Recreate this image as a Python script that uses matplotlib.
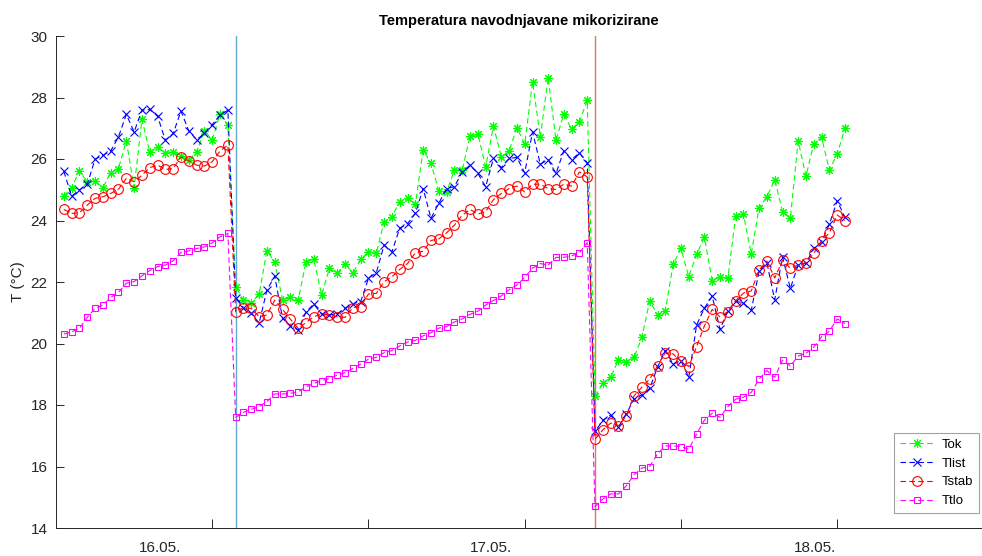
import matplotlib
matplotlib.use("Agg")

import matplotlib.pyplot as plt
import numpy as np

plt.rcParams["font.family"] = ["Liberation Sans", "DejaVu Sans"]

# measurements, one every 0.6 h (36 min) from the start of the axis
tok = [24.79, 25.07, 25.61, 25.26, 25.29, 25.07, 25.55, 25.69, 26.59, 25.07,
       27.29, 26.23, 26.39, 26.18, 26.23, 26.09, 25.96, 26.23, 26.91, 26.63,
       27.46, 27.10, 21.85, 21.41, 21.33, 21.61, 23.01, 22.66, 21.41, 21.50,
       21.41, 22.66, 22.74, 21.58, 22.44, 22.28, 22.60, 22.28, 22.74, 22.98,
       22.93, 23.96, 24.13, 24.61, 24.72, 24.53, 26.29, 25.87, 24.96, 24.93,
       25.64, 25.64, 26.74, 26.81, 25.75, 27.07, 26.07, 26.26, 27.02, 26.48,
       28.51, 26.71, 28.65, 26.61, 27.46, 26.97, 27.21, 27.91, 18.28, 18.71,
       18.90, 19.46, 19.41, 19.55, 20.20, 21.39, 20.93, 21.07, 22.58, 23.09,
       22.17, 22.90, 23.45, 22.04, 22.17, 22.12, 24.14, 24.20, 22.91, 24.42,
       24.77, 25.33, 24.29, 24.07, 26.59, 25.44, 26.50, 26.70, 25.64, 26.16,
       27.00]
tlist = [25.60, 24.79, 24.99, 25.18, 25.99, 26.12, 26.26, 26.72, 27.45, 26.88,
         27.59, 27.61, 27.39, 26.61, 26.83, 27.56, 26.91, 26.63, 26.83, 27.12,
         27.42, 27.59, 21.47, 21.17, 20.98, 20.66, 21.74, 22.19, 20.82, 20.57,
         20.44, 21.03, 21.28, 20.96, 20.93, 20.96, 21.14, 21.30, 21.36, 22.12,
         22.30, 23.20, 22.98, 23.75, 23.90, 24.23, 25.04, 24.07, 24.56, 25.04,
         25.10, 25.58, 25.80, 25.53, 25.10, 26.02, 25.72, 26.02, 26.05, 25.55,
         26.88, 25.83, 25.98, 25.53, 26.26, 25.98, 26.20, 25.88, 17.14, 17.50,
         17.68, 17.28, 17.71, 18.19, 18.33, 18.54, 19.23, 19.77, 19.33, 19.44,
         18.90, 20.60, 21.15, 21.54, 20.46, 21.05, 21.37, 21.32, 21.08, 22.35,
         22.62, 21.42, 22.82, 21.79, 22.55, 22.61, 23.09, 23.31, 23.88, 24.64,
         24.10]
tstab = [24.36, 24.23, 24.25, 24.50, 24.72, 24.77, 24.88, 25.02, 25.37, 25.26,
         25.47, 25.72, 25.80, 25.66, 25.69, 26.07, 25.94, 25.80, 25.77, 25.91,
         26.26, 26.45, 21.03, 21.17, 21.14, 20.87, 20.93, 21.41, 21.11, 20.79,
         20.49, 20.68, 20.87, 20.96, 20.93, 20.87, 20.85, 21.17, 21.20, 21.61,
         21.63, 22.01, 22.17, 22.41, 22.60, 22.95, 23.00, 23.35, 23.40, 23.60,
         23.85, 24.17, 24.36, 24.21, 24.29, 24.68, 24.88, 25.04, 25.12, 24.93,
         25.18, 25.18, 25.04, 25.01, 25.18, 25.12, 25.58, 25.42, 16.89, 17.19,
         17.41, 17.32, 17.65, 18.30, 18.58, 18.84, 19.27, 19.70, 19.66, 19.42,
         19.25, 19.90, 20.57, 21.11, 20.86, 21.04, 21.39, 21.64, 21.71, 22.39,
         22.68, 22.13, 22.70, 22.45, 22.55, 22.63, 22.93, 23.34, 23.60, 24.18,
         24.00]
ttlo = [20.31, 20.38, 20.49, 20.85, 21.14, 21.25, 21.50, 21.66, 21.96, 22.01,
        22.20, 22.37, 22.50, 22.55, 22.69, 22.96, 23.01, 23.09, 23.14, 23.27,
        23.47, 23.58, 17.60, 17.76, 17.86, 17.95, 18.11, 18.36, 18.36, 18.38,
        18.43, 18.59, 18.70, 18.79, 18.86, 18.97, 19.05, 19.19, 19.33, 19.49,
        19.55, 19.70, 19.77, 19.92, 20.05, 20.10, 20.25, 20.35, 20.50, 20.55,
        20.70, 20.80, 20.95, 21.05, 21.25, 21.40, 21.55, 21.75, 21.90, 22.15,
        22.45, 22.60, 22.55, 22.80, 22.80, 22.85, 22.95, 23.28, 14.70, 14.94,
        15.11, 15.11, 15.37, 15.73, 15.95, 16.00, 16.41, 16.67, 16.67, 16.65,
        16.56, 17.06, 17.51, 17.73, 17.60, 17.95, 18.19, 18.25, 18.41, 18.84,
        19.12, 18.90, 19.46, 19.27, 19.59, 19.68, 19.88, 20.22, 20.40, 20.80,
        20.65]

STEP_H = 0.6
hours = STEP_H * np.arange(1, len(tok) + 1)

# irrigation events (hours) and day labels
events = [hours[22], hours[68]]
event_colors = ["#62a9cf", "#d8795a"]
day_labels = ["16.05.", "17.05.", "18.05."]
day_label_pos = [8.0, 33.4, 58.3]
tick_hours = [12, 24, 36, 48, 60]

fig = plt.figure(figsize=(9.82, 5.56), dpi=100)
ax = fig.add_axes([56 / 982, 28 / 556, 925 / 982, 492 / 556])

dash = (0, (5, 3))
ax.plot(hours, tok, color="#00ff00", ls=dash, lw=0.8, marker=(8, 2, 0),
        ms=6.5, mew=0.8, label="Tok")
ax.plot(hours, tlist, color="#0000ff", ls=dash, lw=0.8, marker="x",
        ms=5.5, mew=0.8, label="Tlist")
ax.plot(hours, tstab, color="#ff0000", ls=dash, lw=0.8, marker="o",
        ms=7, mew=0.8, mfc="none", label="Tstab")
ax.plot(hours, ttlo, color="#ff00ff", ls=dash, lw=0.8, marker="s",
        ms=5, mew=0.8, mfc="none", label="Ttlo")

for ev, c in zip(events, event_colors):
    ax.axvline(ev, color=c, lw=1.0, zorder=0)

ax.set_xlim(0, 925 / 13.02)
ax.set_ylim(14, 30)
ax.set_yticks(np.arange(14, 31, 2))

ax.set_xticks(tick_hours, minor=True)
ax.set_xticks(day_label_pos)
ax.set_xticklabels(day_labels)
ax.tick_params(axis="x", which="major", length=0, pad=9)
ax.tick_params(axis="x", which="minor", direction="in", length=6.5,
               width=0.7, color="#262626")
ax.tick_params(axis="y", direction="in", length=5.5, width=0.7,
               color="#262626", pad=6)
ax.tick_params(labelsize=11, labelcolor="#262626")

for side in ("top", "right"):
    ax.spines[side].set_visible(False)
for side in ("left", "bottom"):
    ax.spines[side].set_color("#262626")
    ax.spines[side].set_linewidth(0.7)

ax.set_ylabel("T (°C)", fontsize=11, color="#262626", labelpad=4)
ax.set_title("Temperatura navodnjavane mikorizirane", fontsize=10.5,
             fontweight="bold", pad=8)

leg = ax.legend(loc="lower right", bbox_to_anchor=(0.998, 0.03),
                borderaxespad=0, fontsize=9.5, frameon=True, fancybox=False,
                handlelength=2.6, handletextpad=0.6, borderpad=0.45,
                labelspacing=0.5)
leg.get_frame().set_edgecolor("#8c8c8c")
leg.get_frame().set_linewidth(0.8)

fig.savefig("out.png", dpi=100)
